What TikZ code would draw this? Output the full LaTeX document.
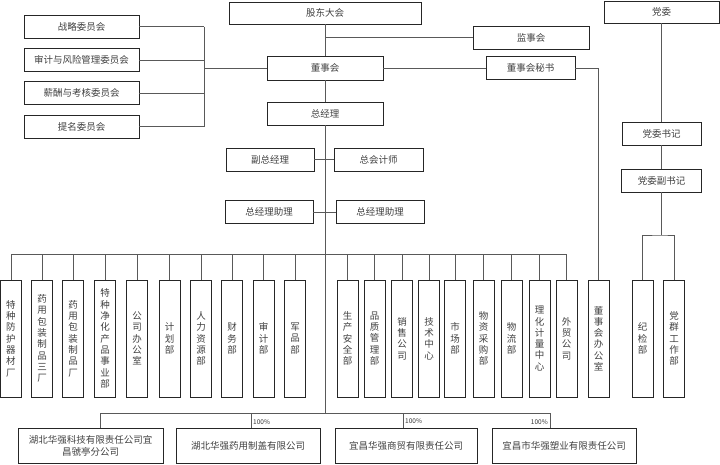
\documentclass[tikz,border=0pt]{standalone}
\usepackage{fontspec}
\newfontfamily\cjk{Noto Sans CJK SC}
\usetikzlibrary{positioning,calc}

\tikzset{
  box/.style={draw=black!85, line width=0.8pt, inner sep=0pt, text=black!75,
    font=\cjk\fontsize{9.5}{11.5}\selectfont, minimum height=23pt},
  vbox/.style={box, minimum width=21pt, minimum height=117pt, align=center,
    text width=12pt, font=\cjk\fontsize{9.5}{11.3}\selectfont},
  conn/.style={draw=black!65, line width=0.6pt},
  pct/.style={font=\cjk\fontsize{6.5}{7}\selectfont, text=black!80, inner sep=1pt}
}

\begin{document}
\begin{tikzpicture}[x=1pt,y=-1pt]
    \useasboundingbox (0,0) rectangle (720,464);

    % Top level
    \node[box, minimum width=192pt, minimum height=22pt] (gudong) at (325,13) {股东大会};
    \node[box, minimum width=116pt] (jianshi) at (531,37.5) {监事会};
    \node[box, minimum width=115pt, minimum height=22pt] (dangwei) at (661.5,12) {党委};
    \node[box, minimum width=116pt, minimum height=24pt] (dongshi) at (325,68) {董事会};
    \node[box, minimum width=89pt] (mishu) at (530.5,68) {董事会秘书};
    \node[box, minimum width=116pt] (zongjingli) at (325,113.5) {总经理};

    % Committees
    \foreach \n/\y/\t in {1/26.5/战略委员会, 2/60/审计与风险管理委员会,
                          3/93/薪酬与考核委员会, 4/126.5/提名委员会}
        \node[box, minimum width=115pt] (wei\n) at (81.5,\y) {\t};

    \coordinate (wk) at (204,68);
    \foreach \n in {1,...,4}
        \draw[conn] (wei\n.east) -- (wei\n.east -| wk);
    \draw[conn] (wei1.east -| wk) -- (wei4.east -| wk);
    \draw[conn] (wk) -- (dongshi.west);

    \draw[conn] (gudong.south) -- (dongshi.north);
    \draw[conn] (gudong.south |- jianshi.west) -- (jianshi.west);
    \draw[conn] (dongshi.east) -- (mishu.west);
    \draw[conn] (dongshi.south) -- (zongjingli.north);

    % Managers
    \node[box, minimum width=88pt] (fuzong) at (270,159.5) {副总经理};
    \node[box, minimum width=89pt] (kuaiji) at (378.5,159.5) {总会计师};
    \node[box, minimum width=88pt] (zhuli1) at (269,212) {总经理助理};
    \node[box, minimum width=88pt] (zhuli2) at (380,212) {总经理助理};
    \draw[conn] (fuzong.east) -- (kuaiji.west);
    \draw[conn] (zhuli1.east) -- (zhuli2.west);

    \coordinate (mid) at (325,413);
    \coordinate (bus) at (325,254);
    \draw[conn] (zongjingli.south) -- (mid);

    % Departments
    \foreach \n/\x/\t in {1/11/{特\\种\\防\\护\\器\\材\\厂},
                          2/42/{药\\用\\包\\装\\制\\品\\三\\厂},
                          3/73/{药\\用\\包\\装\\制\\品\\厂},
                          4/105/{特\\种\\净\\化\\产\\品\\事\\业\\部},
                          5/137/{公\\司\\办\\公\\室},
                          6/169.5/{计\\划\\部},
                          7/201/{人\\力\\资\\源\\部},
                          8/232/{财\\务\\部},
                          9/263.5/{审\\计\\部},
                          10/295/{军\\品\\部},
                          11/347.5/{生\\产\\安\\全\\部},
                          12/374.5/{品\\质\\管\\理\\部},
                          13/402/{销\\售\\公\\司},
                          14/429/{技\\术\\中\\心},
                          15/455/{市\\场\\部},
                          16/483.5/{物\\资\\采\\购\\部},
                          17/511.5/{物\\流\\部},
                          18/539.5/{理\\化\\计\\量\\中\\心},
                          19/566.5/{外\\贸\\公\\司}} {
        \node[vbox] (d\n) at (\x,338.5) {\t};
        \draw[conn] (d\n.north) -- (d\n.north |- bus);
    }
    \draw[conn] (d1.north |- bus) -- (d19.north |- bus);

    \node[vbox] (dban) at (598.5,338.5) {董\\事\\会\\办\\公\\室};
    \draw[conn] (mishu.east) -| (dban.north);

    % Party
    \node[box, minimum width=79pt] (shuji) at (661.5,133.5) {党委书记};
    \node[box, minimum width=80pt] (fushuji) at (661.5,180.5) {党委副书记};
    \node[vbox] (jijian) at (642.5,338.5) {纪\\检\\部};
    \node[vbox] (dangqun) at (674,338.5) {党\\群\\工\\作\\部};
    \draw[conn] (dangwei.south) -- (shuji.north);
    \draw[conn] (shuji.south) -- (fushuji.north);
    \coordinate (dj) at (661.5,235);
    \draw[conn] (fushuji.south) -- (dj);
    \draw[conn] (jijian.north) |- (dj) -| (dangqun.north);

    % Subsidiaries
    \node[box, minimum width=145pt, minimum height=35pt, align=center,
          font=\cjk\fontsize{9.5}{12}\selectfont] (gs1) at (90.5,445.5)
          {湖北华强科技有限责任公司宜\\昌虢亭分公司};
    \node[box, minimum width=144pt, minimum height=35pt] (gs2) at (248,445.5) {湖北华强药用制盖有限公司};
    \node[box, minimum width=142pt, minimum height=35pt] (gs3) at (406,445.5) {宜昌华强商贸有限责任公司};
    \node[box, minimum width=144pt, minimum height=35pt] (gs4) at (564,445.5) {宜昌市华强塑业有限责任公司};

    \coordinate (g1) at (100,413);
    \coordinate (g2) at (251,413);
    \coordinate (g3) at (403,413);
    \coordinate (g4) at (550,413);
    \draw[conn] (g1) -- (g4);
    \foreach \n in {1,...,4}
        \draw[conn] (g\n) -- (g\n |- gs\n.north);

    \node[pct, anchor=west] (p2) at ($(g2)+(1,9)$) {100\%};
    \node[pct, anchor=west] (p3) at ($(g3)+(1,8.5)$) {100\%};
    \node[pct, anchor=east] (p4) at ($(g4)+(-1,9.5)$) {100\%};
\end{tikzpicture}
\end{document}
